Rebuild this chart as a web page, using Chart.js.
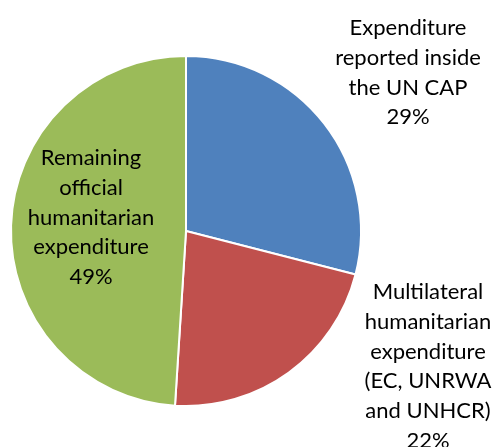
<!DOCTYPE html>
<html>
<head>
<meta charset="utf-8">
<script src="https://cdn.jsdelivr.net/npm/chart.js@4/dist/chart.umd.min.js"></script>
<style>
  html, body { margin: 0; padding: 0; background: #fff; }
  #wrap { width: 493px; height: 447px; position: relative; }
</style>
</head>
<body>
<div id="wrap"><canvas id="pie"></canvas></div>
<script>
// Shares of humanitarian expenditure, clockwise from 12 o'clock.
const categories = [
  ["Expenditure", "reported inside", "the UN CAP"],
  ["Multilateral", "humanitarian", "expenditure", "(EC, UNRWA", "and UNHCR)"],
  ["Remaining", "official", "humanitarian", "expenditure"],
];
const shares = [29, 22, 49];
const colors = ["#4f81bd", "#c0504d", "#9bbb59"];

// Where each multi-line label block is centred (first line) and line step.
const labelAnchors = [
  { x: 408, y: 28 },
  { x: 428, y: 292 },
  { x: 91, y: 158 },
];
const LINE_H = 29.8;
const FONT = "22px Lato, sans-serif";

const sliceLabels = {
  id: "sliceLabels",
  afterDraw(c) {
    const ctx = c.ctx;
    ctx.save();
    ctx.font = FONT;
    ctx.fillStyle = "#000";
    ctx.textAlign = "center";
    ctx.textBaseline = "middle";
    categories.forEach((lines, i) => {
      const a = labelAnchors[i];
      const all = lines.concat([shares[i] + "%"]);
      all.forEach((t, k) => ctx.fillText(t, a.x, a.y + k * LINE_H));
    });
    ctx.restore();
  },
};

new Chart(document.getElementById("pie"), {
  type: "pie",
  data: {
    labels: categories.map(l => l.join(" ")),
    datasets: [{
      data: shares,
      backgroundColor: colors,
      borderColor: "#fff",
      borderWidth: 2,
    }],
  },
  options: {
    responsive: true,
    maintainAspectRatio: false,
    animation: false,
    layout: { padding: { left: 10, top: 55, right: 131, bottom: 40 } },
    plugins: { legend: { display: false }, tooltip: { enabled: false } },
  },
  plugins: [sliceLabels],
});
</script>
</body>
</html>
